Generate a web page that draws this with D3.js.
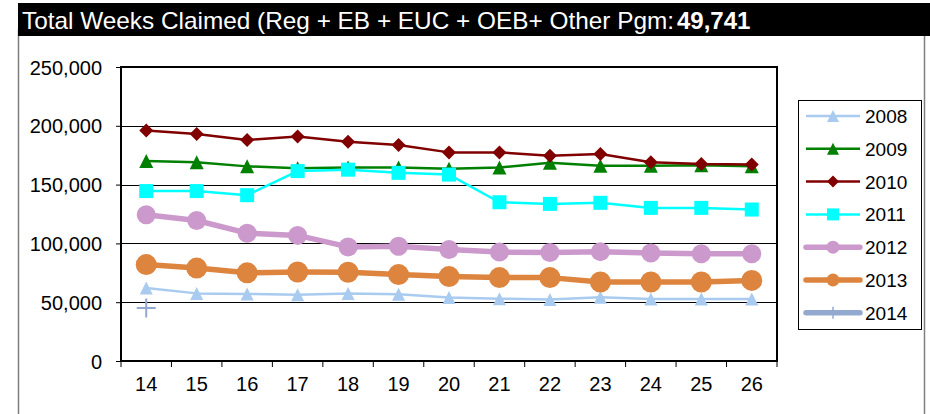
<!DOCTYPE html>
<html>
<head>
<meta charset="utf-8">
<script src="https://cdn.jsdelivr.net/npm/d3@7"></script>
<style>
  body { margin: 0; background: #fff; }
  svg text { font-family: Arial, "Liberation Sans", sans-serif; }
</style>
</head>
<body>
<svg id="chart" width="930" height="414"></svg>
<script>
// week numbers on the x axis
var weeks = ["14","15","16","17","18","19","20","21","22","23","24","25","26"]
var yTicks = [0, 50000, 100000, 150000, 200000, 250000]
var titleText = "Total Weeks Claimed (Reg + EB + EUC + OEB+ Other Pgm:"
var titleValue = "49,741"

// values, one array per year
var y2008 = [62000,57500,57000,56300,57500,56800,54000,53000,52300,54300,52800,52800,52800]
var y2009 = [170000,169000,165500,164000,164500,164500,163500,164500,168500,166000,166000,166500,165500]
var y2010 = [196000,193000,188000,191000,186500,183600,177400,177400,174600,176000,169000,167500,167000]
var y2011 = [144500,144500,141000,161500,162700,160000,158500,135000,133600,134500,130200,130200,128800]
var y2012 = [124300,119500,108700,106800,97000,97500,94800,92600,92300,93000,91800,91200,91200]
var y2013 = [82000,79000,75000,75700,75500,73500,71800,70900,70900,67200,67200,67200,68500]
var y2014 = [45000]

var series = [
  {name: "2008", values: y2008, color: "#a9cbef", width: 2.5, marker: "triangle", size: 13},
  {name: "2009", values: y2009, color: "#008000", width: 2.5, marker: "triangle", size: 14},
  {name: "2010", values: y2010, color: "#800000", width: 2.5, marker: "diamond", size: 14},
  {name: "2011", values: y2011, color: "#00ffff", width: 2.5, marker: "square", size: 14},
  {name: "2012", values: y2012, color: "#cc99cc", width: 5.5, marker: "circle", size: 19},
  {name: "2013", values: y2013, color: "#dd843e", width: 5.5, marker: "circle", size: 21},
  {name: "2014", values: y2014, color: "#93a9d0", width: 5.5, marker: "plus", size: 19}
]

var svg = d3.select("#chart")

// outer chart frame + title bar
svg.append("rect").attr("x", 18.5).attr("y", 30).attr("width", 906).attr("height", 400)
  .attr("fill", "#fff").attr("stroke", "#7f7f7f").attr("stroke-width", 1.5)
svg.append("rect").attr("x", 18).attr("y", 3).attr("width", 912).attr("height", 33).attr("fill", "#000")
svg.append("text").attr("x", 22).attr("y", 28.5).attr("fill", "#fff")
  .style("font-size", "24px").attr("textLength", 652).attr("lengthAdjust", "spacingAndGlyphs")
  .text(titleText)
svg.append("text").attr("x", 677).attr("y", 28.5).attr("fill", "#fff")
  .style("font-size", "24px").style("font-weight", "bold").text(titleValue)

// plot area box (window.top is reserved, so prefixed names)
var pLeft = 121, pRight = 777, pTop = 67, pBottom = 361

var x = d3.scaleBand().domain(weeks).range([pLeft, pRight])
var y = d3.scaleLinear().domain([0, 250000]).range([pBottom, pTop])

// gridlines
svg.append("g").selectAll("line").data(yTicks.slice(1, -1)).join("line")
  .attr("x1", pLeft).attr("x2", pRight)
  .attr("y1", d => Math.round(y(d)) + 0.5).attr("y2", d => Math.round(y(d)) + 0.5)
  .attr("stroke", "#000").attr("stroke-width", 1)

// y axis
var yAxis = svg.append("g").attr("transform", "translate(" + pLeft + ",0)")
  .call(d3.axisLeft(y).tickValues(yTicks).tickSize(5).tickPadding(14).tickFormat(d3.format(",")))
yAxis.select(".domain").remove()
yAxis.selectAll("text").style("font-size", "20px").attr("fill", "#000").attr("dy", "0.35em")
yAxis.selectAll("line").attr("stroke", "#000")

// x axis: labels at centres, tick marks between categories like excel
var xAxis = svg.append("g").attr("transform", "translate(0," + pBottom + ")")
  .call(d3.axisBottom(x).tickSize(0).tickPadding(16))
xAxis.select(".domain").remove()
xAxis.selectAll("text").style("font-size", "20px").attr("fill", "#000")
svg.append("g").selectAll("line").data(weeks.map(w => x(w)).concat([pRight])).join("line")
  .attr("x1", d => d).attr("x2", d => d).attr("y1", pBottom).attr("y2", pBottom + 6)
  .attr("stroke", "#000").attr("stroke-width", 1)

// plot area border
svg.append("rect").attr("x", pLeft).attr("y", pTop).attr("width", pRight - pLeft).attr("height", pBottom - pTop)
  .attr("fill", "none").attr("stroke", "#000").attr("stroke-width", 2)

function markerPath(type, s) {
  var h = s / 2
  if (type == "triangle") return "M0," + (-h) + "L" + h + "," + h + "L" + (-h) + "," + h + "Z"
  if (type == "diamond") return "M0," + (-h) + "L" + h + ",0L0," + h + "L" + (-h) + ",0Z"
  if (type == "square") return "M" + (-h) + "," + (-h) + "h" + s + "v" + s + "h" + (-s) + "Z"
  if (type == "plus") return "M" + (-h) + ",0H" + h + "M0," + (-h) + "V" + h
  return "M" + h + ",0A" + h + "," + h + " 0 1,1 " + (-h) + ",0A" + h + "," + h + " 0 1,1 " + h + ",0Z"
}

var cx = w => x(w) + x.bandwidth() / 2
var line = d3.line().x((d, i) => cx(weeks[i])).y(d => y(d))

series.forEach(function(s) {
  var g = svg.append("g")
  g.append("path").datum(s.values).attr("d", line).attr("fill", "none")
    .attr("stroke", s.color).attr("stroke-width", s.width).attr("stroke-linejoin", "round")
  g.selectAll("path.m").data(s.values).join("path").attr("class", "m")
    .attr("transform", (d, i) => "translate(" + cx(weeks[i]) + "," + y(d) + ")")
    .attr("d", markerPath(s.marker, s.size))
    .attr("fill", s.marker == "plus" ? "none" : s.color)
    .attr("stroke", s.marker == "plus" ? s.color : "none").attr("stroke-width", 2)
})

// legend
var lg = svg.append("g")
lg.append("rect").attr("x", 798.5).attr("y", 100.5).attr("width", 123).attr("height", 229)
  .attr("fill", "#fff").attr("stroke", "#000").attr("stroke-width", 1)
series.forEach(function(s, i) {
  var ly = 116 + i * 32.8
  lg.append("line").attr("x1", 806).attr("x2", 860).attr("y1", ly).attr("y2", ly)
    .attr("stroke", s.color).attr("stroke-width", s.width).attr("stroke-linecap", s.width > 3 ? "round" : "butt")
  lg.append("path").attr("transform", "translate(833," + ly + ")")
    .attr("d", markerPath(s.marker, s.marker == "plus" ? 12 : (s.marker == "circle" ? 13 : 12)))
    .attr("fill", s.marker == "plus" ? "none" : s.color)
    .attr("stroke", s.marker == "plus" ? s.color : "none").attr("stroke-width", 1.5)
  lg.append("text").attr("x", 865).attr("y", ly + 7).style("font-size", "19px").attr("fill", "#000").text(s.name)
})
</script>
</body>
</html>
